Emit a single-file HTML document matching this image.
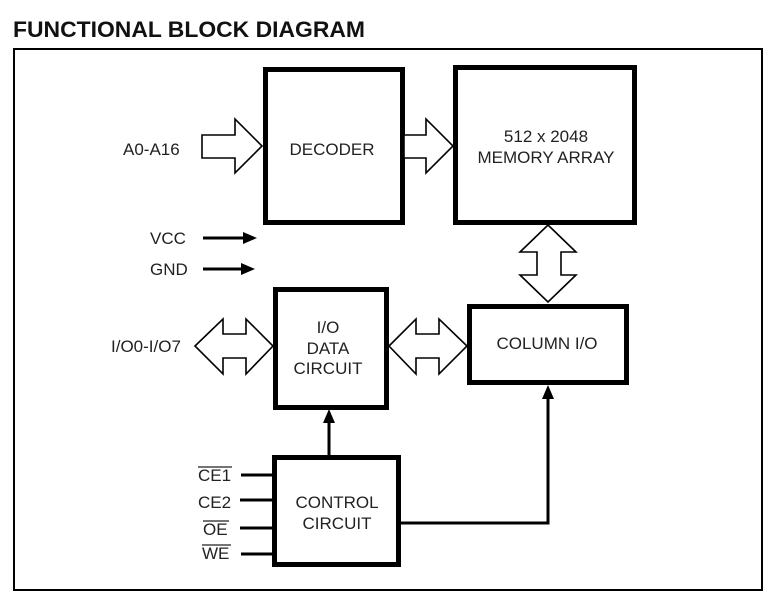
<!DOCTYPE html>
<html><head><style>body{margin:0;background:#fff}svg{display:block}</style></head><body>
<svg width="779" height="601" xmlns="http://www.w3.org/2000/svg" font-family="Liberation Sans, Arial, sans-serif">
<text x="13" y="37" font-size="22" font-weight="bold" fill="#111" textLength="352" lengthAdjust="spacingAndGlyphs">FUNCTIONAL BLOCK DIAGRAM</text>
<rect x="14" y="49" width="748" height="541" fill="none" stroke="#000" stroke-width="2"/>
<g fill="#fff" stroke="#000" stroke-width="5">
<rect x="265.5" y="69.5" width="137" height="153"/>
<rect x="455.5" y="67.5" width="179" height="155"/>
<rect x="275.5" y="289.5" width="111" height="118"/>
<rect x="469.5" y="306.5" width="157" height="76"/>
<rect x="274.5" y="457.5" width="124" height="107"/>
</g>
<g fill="#fff" stroke="#000" stroke-width="1.6">
<polygon points="202,135 235,135 235,119 262,146 235,173 235,158 202,158"/>
<polygon points="404,135 426,135 426,119 453,146 426,173 426,158 404,158"/>
<polygon points="548,225 576,252 561,252 561,275 576,275 548,302 520,275 537,275 537,252 520,252"/>
<polygon points="195,346 223,319 223,334 246,334 246,319 273,346 246,374 246,358 223,358 223,374"/>
<polygon points="389,346 416,319 416,334 439,334 439,319 467,346 439,374 439,358 416,358 416,374"/>
</g>
<g stroke="#000" stroke-width="3" fill="none">
<line x1="203" y1="238" x2="245" y2="238"/>
<line x1="203" y1="269" x2="243" y2="269"/>
<line x1="329" y1="456" x2="329" y2="420"/>
<polyline points="400,523 548,523 548,396"/>
<line x1="241" y1="475" x2="273" y2="475"/>
<line x1="240" y1="500" x2="273" y2="500"/>
<line x1="240" y1="528" x2="273" y2="528"/>
<line x1="241" y1="554" x2="273" y2="554"/>
</g>
<g fill="#000">
<polygon points="257,238 243,232 243,244"/>
<polygon points="255,269 241,263 241,275"/>
<polygon points="329,409 323,423 335,423"/>
<polygon points="548,385 542,399 554,399"/>
</g>
<g font-size="17" fill="#222">
<text x="123" y="155">A0-A16</text>
<text x="150" y="244">VCC</text>
<text x="150" y="275">GND</text>
<text x="111" y="352">I/O0-I/O7</text>
<text x="332" y="155" text-anchor="middle">DECODER</text>
<text x="546" y="142" text-anchor="middle">512 x 2048</text>
<text x="546" y="163" text-anchor="middle">MEMORY ARRAY</text>
<text x="328" y="333" text-anchor="middle">I/O</text>
<text x="328" y="354" text-anchor="middle">DATA</text>
<text x="328" y="374" text-anchor="middle">CIRCUIT</text>
<text x="547" y="349" text-anchor="middle">COLUMN I/O</text>
<text x="337" y="508" text-anchor="middle">CONTROL</text>
<text x="337" y="529" text-anchor="middle">CIRCUIT</text>
<text x="198" y="481">CE1</text>
<text x="198" y="508">CE2</text>
<text x="203" y="535">OE</text>
<text x="202" y="559">WE</text>
</g>
<g stroke="#222" stroke-width="1.2">
<line x1="198" y1="467" x2="232" y2="467"/>
<line x1="203" y1="521" x2="229" y2="521"/>
<line x1="202" y1="545" x2="231" y2="545"/>
</g>
</svg>
</body></html>
